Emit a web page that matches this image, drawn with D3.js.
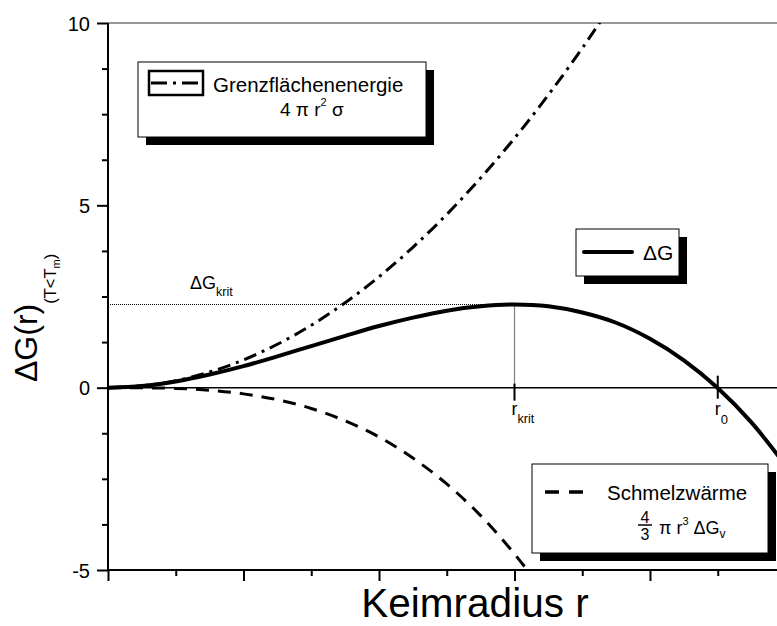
<!DOCTYPE html>
<html>
<head>
<meta charset="utf-8">
<script src="https://cdn.jsdelivr.net/npm/d3@7/dist/d3.min.js"></script>
<style>
  html, body { margin: 0; padding: 0; background: #fff; }
  svg { display: block; }
  text { font-family: "Liberation Sans", Arial, sans-serif; fill: #000; }
</style>
</head>
<body>
<svg id="chart" width="777" height="626"></svg>
<script>
// Nucleation free energy versus nucleus radius
const radius       = [0, 0.25, 0.5, 0.75, 1.0, 1.25, 1.5, 1.75, 2.0, 2.25, 2.5, 2.75, 3.0, 3.25, 3.5, 3.75, 4.0, 4.25, 4.5, 4.75, 5.0];
const surfaceTerm  = [0, 0.05, 0.19, 0.43, 0.76, 1.19, 1.71, 2.33, 3.04, 3.85, 4.75, 5.75, 6.84, 8.03, 9.31, 10.69, 12.16, 13.73, 15.39, 17.15, 19.0];
const volumeTerm   = [0, -0.003, -0.02, -0.07, -0.17, -0.33, -0.57, -0.91, -1.35, -1.93, -2.64, -3.51, -4.56, -5.80, -7.25, -8.91, -10.82, -12.97, -15.40, -18.11, -21.13];
const totalDeltaG  = [0, 0.045, 0.17, 0.36, 0.59, 0.86, 1.14, 1.42, 1.69, 1.92, 2.11, 2.23, 2.28, 2.23, 2.06, 1.78, 1.34, 0.75, -0.01, -0.96, -2.13];

const rKrit = 3.0;
const gKrit = 2.28;
const rZero = 4.5;

const yTickValues   = [-5, 0, 5, 10];
const yMinorValues  = [-3.75, -2.5, -1.25, 1.25, 2.5, 3.75, 6.25, 7.5, 8.75];
const xMajorValues  = [0, 1, 2, 3, 4];
const xMinorValues  = [0.5, 1.5, 2.5, 3.5, 4.5];

const svg = d3.select("#chart");
const plotL = 108, plotR = 785.5, plotT = 23, plotB = 570;

const x = d3.scaleLinear().domain([0, 5]).range([plotL, plotR]);
const y = d3.scaleLinear().domain([-5, 10]).range([plotB, plotT]);

svg.append("defs").append("clipPath").attr("id", "plotClip")
  .append("rect").attr("x", plotL).attr("y", plotT)
  .attr("width", plotR - plotL).attr("height", plotB - plotT);

// frame top line
svg.append("line").attr("x1", plotL).attr("x2", plotR).attr("y1", plotT).attr("y2", plotT)
  .attr("stroke", "#333").attr("stroke-width", 1.2);

// zero line
svg.append("line").attr("x1", plotL).attr("x2", plotR).attr("y1", y(0)).attr("y2", y(0))
  .attr("stroke", "#000").attr("stroke-width", 1.5);

// y axis
const yAxis = d3.axisLeft(y).tickValues(yTickValues).tickSize(11).tickPadding(7).tickFormat(d => String(d));
const gy = svg.append("g").attr("transform", `translate(${plotL},0)`).call(yAxis);
gy.select(".domain").attr("stroke-width", 2).attr("d", `M0,${plotT}V${plotB}`);
gy.selectAll(".tick line").attr("stroke-width", 2);
gy.selectAll(".tick text").attr("font-size", 20).attr("font-family", "Liberation Sans, Arial, sans-serif").attr("dy", "0.36em");
const yMinor = d3.axisLeft(y).tickValues(yMinorValues).tickSize(6).tickFormat("");
const gym = svg.append("g").attr("transform", `translate(${plotL},0)`).call(yMinor);
gym.select(".domain").remove();
gym.selectAll(".tick line").attr("stroke-width", 2);

// x axis
const xAxis = d3.axisBottom(x).tickValues(xMajorValues).tickSize(11).tickFormat("");
const gx = svg.append("g").attr("transform", `translate(0,${plotB})`).call(xAxis);
gx.select(".domain").attr("stroke-width", 2).attr("d", `M${plotL},0H${plotR}`);
gx.selectAll(".tick line").attr("stroke-width", 2);
const xMinor = d3.axisBottom(x).tickValues(xMinorValues).tickSize(6).tickFormat("");
const gxm = svg.append("g").attr("transform", `translate(0,${plotB})`).call(xMinor);
gxm.select(".domain").remove();
gxm.selectAll(".tick line").attr("stroke-width", 2);

// critical point guides
svg.append("line").attr("x1", plotL).attr("x2", x(rKrit)).attr("y1", y(gKrit)).attr("y2", y(gKrit))
  .attr("stroke", "#000").attr("stroke-width", 1.2).attr("stroke-dasharray", "1,1");
svg.append("line").attr("x1", x(rKrit)).attr("x2", x(rKrit)).attr("y1", y(gKrit)).attr("y2", y(0))
  .attr("stroke", "#000").attr("stroke-width", 1.2).attr("stroke-dasharray", "1,1");
svg.append("line").attr("x1", x(rKrit)).attr("x2", x(rKrit)).attr("y1", y(0) - 4).attr("y2", y(0) + 13)
  .attr("stroke", "#000").attr("stroke-width", 2);
svg.append("line").attr("x1", x(rZero)).attr("x2", x(rZero)).attr("y1", y(0) - 12).attr("y2", y(0) + 11)
  .attr("stroke", "#000").attr("stroke-width", 2);

// curves
const plot = svg.append("g").attr("clip-path", "url(#plotClip)");
const lineOf = vals => d3.line().x((d, i) => x(radius[i])).y(d => y(d)).curve(d3.curveCatmullRom)(vals);

plot.append("path").attr("d", lineOf(surfaceTerm)).attr("fill", "none")
  .attr("stroke", "#000").attr("stroke-width", 3).attr("stroke-dasharray", "13,6,3,6");
plot.append("path").attr("d", lineOf(volumeTerm)).attr("fill", "none")
  .attr("stroke", "#000").attr("stroke-width", 3).attr("stroke-dasharray", "13,9");
plot.append("path").attr("d", lineOf(totalDeltaG)).attr("fill", "none")
  .attr("stroke", "#000").attr("stroke-width", 4);

// labels at critical values
const lab1 = svg.append("text").attr("x", 190).attr("y", 289).attr("font-size", 18);
lab1.append("tspan").text("ΔG");
lab1.append("tspan").attr("font-size", 12.5).attr("dy", 7).text("krit");

const lab2 = svg.append("text").attr("x", x(rKrit) - 3).attr("y", 415).attr("font-size", 18);
lab2.append("tspan").text("r");
lab2.append("tspan").attr("font-size", 12.5).attr("dy", 8).text("krit");

const lab3 = svg.append("text").attr("x", x(rZero) - 3).attr("y", 415).attr("font-size", 18);
lab3.append("tspan").text("r");
lab3.append("tspan").attr("font-size", 13).attr("dy", 9).text("0");

// axis titles
svg.append("text").attr("x", 475).attr("y", 617).attr("text-anchor", "middle")
  .attr("font-size", 40.5).text("Keimradius r");

const yt = svg.append("text").attr("transform", "translate(37,382) rotate(-90)").attr("font-size", 32);
yt.append("tspan").text("ΔG(r)");
yt.append("tspan").attr("font-size", 16.5).attr("dy", 19).text("(T<T");
yt.append("tspan").attr("font-size", 11).attr("dy", 4).text("m");
yt.append("tspan").attr("font-size", 16.5).attr("dy", -4).text(")");

// legend boxes with drop shadow
function legendBox(bx, by, bw, bh) {
  svg.append("rect").attr("x", bx + 8).attr("y", by + 8).attr("width", bw).attr("height", bh).attr("fill", "#000");
  svg.append("rect").attr("x", bx).attr("y", by).attr("width", bw).attr("height", bh)
    .attr("fill", "#fff").attr("stroke", "#000").attr("stroke-width", 1);
}

// surface energy legend
legendBox(138, 62, 288, 75);
svg.append("rect").attr("x", 149).attr("y", 71).attr("width", 54).attr("height", 24)
  .attr("fill", "none").attr("stroke", "#000").attr("stroke-width", 2.5);
svg.append("line").attr("x1", 151).attr("x2", 202).attr("y1", 83).attr("y2", 83)
  .attr("stroke", "#000").attr("stroke-width", 3).attr("stroke-dasharray", "16,6,3,6");
svg.append("text").attr("x", 213).attr("y", 92).attr("font-size", 20.5).text("Grenzflächenenergie");
const f1 = svg.append("text").attr("x", 280).attr("y", 116).attr("font-size", 19);
f1.append("tspan").text("4 π r");
f1.append("tspan").attr("font-size", 11).attr("dy", -10).text("2");
f1.append("tspan").attr("dy", 10).text(" σ");

// total free energy legend
legendBox(576, 229, 103, 47);
svg.append("line").attr("x1", 584).attr("x2", 632).attr("y1", 252).attr("y2", 252)
  .attr("stroke", "#000").attr("stroke-width", 4).attr("stroke-linecap", "round");
svg.append("text").attr("x", 643).attr("y", 260).attr("font-size", 21).text("ΔG");

// melting heat legend
legendBox(532, 464, 236, 89);
svg.append("line").attr("x1", 545).attr("x2", 583).attr("y1", 492).attr("y2", 492)
  .attr("stroke", "#000").attr("stroke-width", 3.5).attr("stroke-dasharray", "14,10");
svg.append("text").attr("x", 607).attr("y", 500).attr("font-size", 20.5).text("Schmelzwärme");
svg.append("text").attr("x", 645).attr("y", 523).attr("font-size", 16).attr("text-anchor", "middle").text("4");
svg.append("line").attr("x1", 638).attr("x2", 652).attr("y1", 525).attr("y2", 525)
  .attr("stroke", "#000").attr("stroke-width", 1.5);
svg.append("text").attr("x", 645).attr("y", 540).attr("font-size", 16).attr("text-anchor", "middle").text("3");
const f2 = svg.append("text").attr("x", 659).attr("y", 534).attr("font-size", 18);
f2.append("tspan").text("π r");
f2.append("tspan").attr("font-size", 11).attr("dy", -9).text("3");
f2.append("tspan").attr("dy", 9).text(" ΔG");
f2.append("tspan").attr("font-size", 12).attr("dy", 4).text("v");
</script>
</body>
</html>
